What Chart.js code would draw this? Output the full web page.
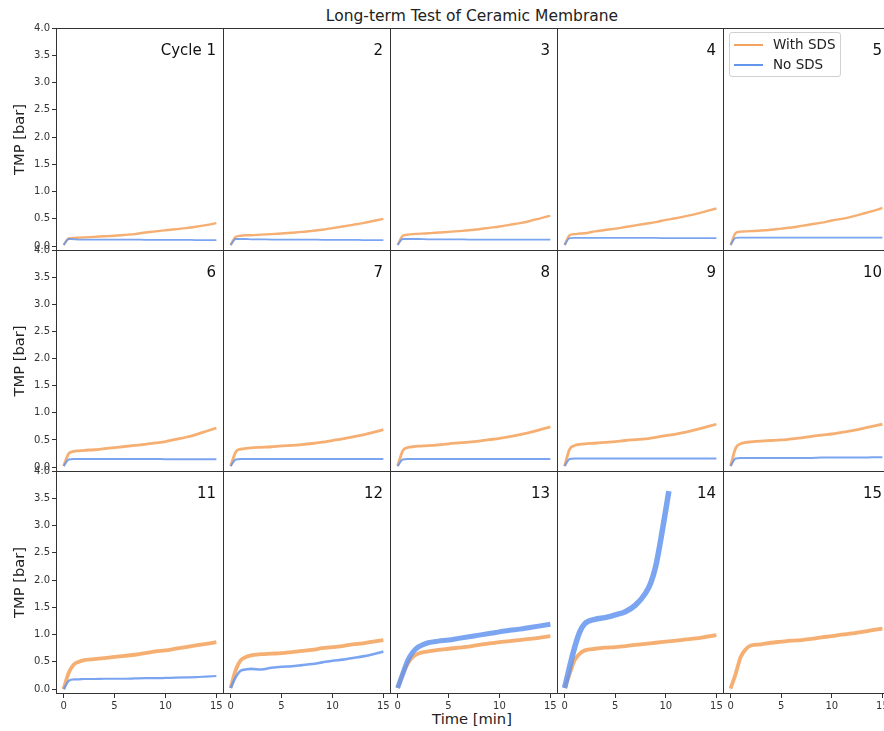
<!DOCTYPE html>
<html>
<head>
<meta charset="utf-8">
<script src="https://cdn.jsdelivr.net/npm/chart.js@4.4.1/dist/chart.umd.min.js"></script>
<style>
  html, body { margin: 0; padding: 0; overflow: hidden; background: #fff; }
  body { position: relative; width: 884px; height: 731px; font-family: "DejaVu Sans", sans-serif; color: #222; }
  canvas { position: absolute; }
  #title { position: absolute; left: 0; width: 944px; top: 7px; text-align: center; font-size: 15.5px; }
  #xtitle { position: absolute; left: 0; width: 944px; top: 710px; text-align: center; font-size: 14.7px; }
  #legend { position: absolute; left: 729px; top: 32px; width: 110px; height: 43px;
            border: 1px solid #d0d0d0; border-radius: 3px; background: rgba(255,255,255,0.85); z-index: 5; }
  #legend .row { position: absolute; left: 0; height: 20px; font-size: 13.5px; }
  #legend .swatch { position: absolute; left: 4px; width: 29px; height: 2px; top: 9px; }
  #legend .lbl { position: absolute; left: 43px; top: 1px; white-space: nowrap; }
</style>
</head>
<body>
<div id="title">Long-term Test of Ceramic Membrane</div>
<div id="xtitle">Time [min]</div>
<div id="legend">
  <div class="row" style="top:2px"><div class="swatch" style="background:#f4a460"></div><div class="lbl">With SDS</div></div>
  <div class="row" style="top:22px"><div class="swatch" style="background:#6495ed"></div><div class="lbl">No SDS</div></div>
</div>
<script>
// --- Data ---
const cycleLabels = ["Cycle 1", "2", "3", "4", "5", "6", "7", "8", "9", "10", "11", "12", "13", "14", "15"];
const seriesNames = ["With SDS", "No SDS"];
const xTicks = [0, 5, 10, 15];
const yTicks = [0, 0.5, 1, 1.5, 2, 2.5, 3, 3.5, 4];

// time [min]
const times = [0, 0.5, 1, 1.5, 2, 3, 4, 5, 6, 7, 8, 9, 10, 11, 12, 13, 14, 15];
// cycle 14 without SDS stops early
const timesNoSDS14 = [0, 0.5, 1, 1.5, 2, 3, 4, 5, 6, 7, 8, 8.5, 9, 9.5, 10, 10.3];

// TMP [bar] with SDS, one row per cycle
const withSDS = [
  [0.02, 0.14, 0.15, 0.155, 0.16, 0.17, 0.18, 0.19, 0.205, 0.22, 0.25, 0.27, 0.29, 0.31, 0.33, 0.355, 0.385, 0.42],
  [0.02, 0.17, 0.19, 0.20, 0.20, 0.21, 0.22, 0.23, 0.245, 0.26, 0.28, 0.30, 0.33, 0.36, 0.39, 0.42, 0.46, 0.50],
  [0.02, 0.19, 0.21, 0.22, 0.225, 0.235, 0.25, 0.26, 0.275, 0.29, 0.31, 0.335, 0.36, 0.39, 0.42, 0.46, 0.51, 0.56],
  [0.02, 0.20, 0.22, 0.23, 0.235, 0.27, 0.295, 0.32, 0.35, 0.38, 0.41, 0.44, 0.48, 0.51, 0.55, 0.59, 0.64, 0.69],
  [0.02, 0.24, 0.265, 0.27, 0.275, 0.285, 0.30, 0.32, 0.34, 0.37, 0.40, 0.43, 0.47, 0.50, 0.54, 0.59, 0.64, 0.70],
  [0.02, 0.25, 0.29, 0.30, 0.31, 0.32, 0.34, 0.36, 0.38, 0.40, 0.42, 0.445, 0.47, 0.51, 0.55, 0.60, 0.66, 0.72],
  [0.02, 0.28, 0.33, 0.345, 0.355, 0.365, 0.375, 0.39, 0.40, 0.415, 0.435, 0.46, 0.49, 0.52, 0.555, 0.595, 0.64, 0.69],
  [0.02, 0.30, 0.36, 0.375, 0.385, 0.395, 0.41, 0.43, 0.445, 0.46, 0.48, 0.505, 0.53, 0.56, 0.60, 0.64, 0.69, 0.74],
  [0.02, 0.33, 0.40, 0.42, 0.43, 0.44, 0.455, 0.47, 0.49, 0.505, 0.52, 0.55, 0.58, 0.61, 0.645, 0.69, 0.74, 0.79],
  [0.02, 0.35, 0.43, 0.455, 0.465, 0.48, 0.49, 0.50, 0.52, 0.54, 0.565, 0.59, 0.61, 0.64, 0.67, 0.71, 0.75, 0.79],
  [0.00, 0.30, 0.45, 0.50, 0.53, 0.55, 0.57, 0.59, 0.61, 0.63, 0.66, 0.69, 0.71, 0.74, 0.77, 0.80, 0.83, 0.86],
  [0.02, 0.35, 0.53, 0.59, 0.62, 0.64, 0.65, 0.66, 0.68, 0.70, 0.72, 0.75, 0.77, 0.79, 0.82, 0.84, 0.87, 0.90],
  [0.02, 0.28, 0.47, 0.59, 0.65, 0.69, 0.72, 0.74, 0.76, 0.78, 0.81, 0.84, 0.86, 0.88, 0.90, 0.92, 0.945, 0.97],
  [0.02, 0.28, 0.53, 0.65, 0.71, 0.74, 0.76, 0.77, 0.79, 0.81, 0.83, 0.85, 0.87, 0.89, 0.91, 0.93, 0.96, 0.99],
  [0.01, 0.28, 0.59, 0.73, 0.80, 0.82, 0.85, 0.87, 0.89, 0.90, 0.92, 0.95, 0.97, 1.00, 1.02, 1.05, 1.08, 1.11]
];

// TMP [bar] without SDS (cycle 15 has no run)
const noSDS = [
  [0.02, 0.13, 0.125, 0.12, 0.12, 0.12, 0.12, 0.12, 0.12, 0.12, 0.115, 0.115, 0.115, 0.115, 0.115, 0.11, 0.11, 0.11],
  [0.02, 0.13, 0.13, 0.13, 0.125, 0.125, 0.12, 0.12, 0.12, 0.12, 0.12, 0.115, 0.115, 0.115, 0.115, 0.11, 0.11, 0.11],
  [0.02, 0.13, 0.13, 0.13, 0.13, 0.125, 0.125, 0.125, 0.125, 0.12, 0.12, 0.12, 0.12, 0.12, 0.12, 0.12, 0.12, 0.12],
  [0.02, 0.145, 0.15, 0.15, 0.15, 0.15, 0.15, 0.15, 0.15, 0.15, 0.15, 0.15, 0.145, 0.145, 0.145, 0.145, 0.145, 0.145],
  [0.02, 0.15, 0.155, 0.155, 0.155, 0.155, 0.155, 0.155, 0.155, 0.155, 0.155, 0.155, 0.155, 0.155, 0.155, 0.155, 0.155, 0.155],
  [0.02, 0.14, 0.15, 0.15, 0.15, 0.15, 0.15, 0.15, 0.15, 0.15, 0.15, 0.15, 0.145, 0.145, 0.145, 0.145, 0.145, 0.145],
  [0.02, 0.14, 0.15, 0.15, 0.15, 0.15, 0.15, 0.15, 0.15, 0.15, 0.15, 0.15, 0.15, 0.15, 0.15, 0.15, 0.15, 0.15],
  [0.02, 0.14, 0.15, 0.15, 0.15, 0.15, 0.15, 0.15, 0.15, 0.15, 0.15, 0.15, 0.15, 0.15, 0.15, 0.15, 0.15, 0.15],
  [0.02, 0.15, 0.16, 0.16, 0.16, 0.16, 0.16, 0.16, 0.16, 0.16, 0.16, 0.16, 0.16, 0.16, 0.16, 0.16, 0.16, 0.16],
  [0.02, 0.16, 0.17, 0.17, 0.17, 0.17, 0.17, 0.17, 0.17, 0.17, 0.17, 0.175, 0.175, 0.175, 0.175, 0.175, 0.18, 0.18],
  [0.00, 0.15, 0.18, 0.18, 0.185, 0.185, 0.19, 0.19, 0.19, 0.195, 0.20, 0.20, 0.205, 0.21, 0.215, 0.22, 0.23, 0.24],
  [0.02, 0.22, 0.34, 0.36, 0.37, 0.36, 0.39, 0.41, 0.42, 0.44, 0.46, 0.49, 0.52, 0.54, 0.57, 0.60, 0.64, 0.69],
  [0.02, 0.28, 0.53, 0.68, 0.77, 0.85, 0.88, 0.90, 0.93, 0.96, 0.99, 1.02, 1.05, 1.08, 1.10, 1.13, 1.16, 1.19],
  [0.02, 0.41, 0.77, 1.05, 1.20, 1.28, 1.31, 1.36, 1.42, 1.54, 1.76, 1.94, 2.25, 2.74, 3.29, 3.63],
  []
];

// --- Layout / style ---
const ORANGE = "rgba(244,164,96,0.88)";
const BLUE = "rgba(100,149,237,0.85)";
const FONT = "'DejaVu Sans', sans-serif";
const colX = [56, 223, 390, 557, 723, 889];
const rowY = [28, 250, 471, 693];
const padL = 56, padB = 32, padT = 8;
const orangeWidth = [2.4, 2.8, 3.8];
const blueWidth = [1.8, 1.8, 1.8, 1.8, 1.8, 2, 2, 2, 2, 2, 2.2, 2.6, 5, 5.5, 2];

// frame + cycle label drawn on each panel
const framePlugin = {
  id: "frame",
  afterDraw(chart, args, opts) {
    const { ctx, chartArea: a } = chart;
    ctx.save();
    ctx.strokeStyle = "#333";
    ctx.lineWidth = 1;
    ctx.strokeRect(a.left + 0.5, a.top + 0.5, a.right - a.left - 1, a.bottom - a.top - 1);
    ctx.font = "15px " + FONT;
    ctx.fillStyle = "#111";
    ctx.textAlign = "right";
    ctx.textBaseline = "alphabetic";
    ctx.fillText(opts.text, a.right - 8, a.top + 27);
    ctx.restore();
  }
};

// fixed axis box, no extra room for overhanging end labels
function fixBox(s, show, size) {
  if (s.isHorizontal()) s.height = show ? size : 0;
  else s.width = show ? size : 0;
  s.paddingTop = 0; s.paddingBottom = 0;
  s.paddingLeft = 0; s.paddingRight = 0;
}

for (let i = 0; i < 15; i++) {
  const r = Math.floor(i / 5), c = i % 5;
  const isLeft = c === 0, isBottom = r === 2;
  const extraTop = isLeft ? padT : 0;  // room for the "4.0" label
  const left = colX[c] - (isLeft ? padL : 0);
  const top = rowY[r] - extraTop;
  const w = colX[c + 1] - colX[c] + 1 + (isLeft ? padL : 0);
  const h = rowY[r + 1] - rowY[r] + 1 + (isBottom ? padB : 0) + extraTop;

  const cv = document.createElement("canvas");
  cv.width = w; cv.height = h;
  cv.style.left = left + "px"; cv.style.top = top + "px";
  cv.style.width = w + "px"; cv.style.height = h + "px";
  document.body.appendChild(cv);

  const tBlue = i === 13 ? timesNoSDS14 : times;

  new Chart(cv, {
    type: "line",
    data: {
      datasets: [
        {
          label: seriesNames[1],
          data: noSDS[i].map((v, k) => ({ x: tBlue[k], y: v })),
          borderColor: BLUE,
          borderWidth: blueWidth[i],
          pointRadius: 0,
          cubicInterpolationMode: "monotone",
          fill: false,
          order: 0
        },
        {
          label: seriesNames[0],
          data: withSDS[i].map((v, k) => ({ x: times[k], y: v })),
          borderColor: ORANGE,
          borderWidth: orangeWidth[r],
          pointRadius: 0,
          cubicInterpolationMode: "monotone",
          fill: false,
          order: 1
        }
      ]
    },
    options: {
      responsive: false,
      maintainAspectRatio: false,
      devicePixelRatio: 1,
      animation: false,
      events: [],
      layout: { padding: { top: extraTop, left: 0, right: 0, bottom: 0 } },
      plugins: {
        legend: { display: false },
        tooltip: { enabled: false },
        frame: { text: cycleLabels[i] }
      },
      scales: {
        x: {
          type: "linear",
          min: -0.75,
          max: 15.75,
          display: isBottom,
          afterFit: s => fixBox(s, isBottom, padB),
          afterBuildTicks: s => { s.ticks = xTicks.map(v => ({ value: v })); },
          ticks: {
            callback: v => String(v),
            font: { family: FONT, size: 10 },
            color: "#333",
            padding: 2,
            maxRotation: 0,
            autoSkip: false
          },
          grid: { drawOnChartArea: false, drawTicks: true, tickLength: 4, color: "#333" },
          border: { display: false }
        },
        y: {
          type: "linear",
          min: -0.09,
          max: 4.0,
          display: isLeft,
          afterFit: s => fixBox(s, isLeft, padL),
          afterBuildTicks: s => { s.ticks = yTicks.map(v => ({ value: v })); },
          ticks: {
            callback: v => Number(v).toFixed(1),
            font: { family: FONT, size: 10 },
            color: "#333",
            padding: 2,
            autoSkip: false
          },
          grid: { drawOnChartArea: false, drawTicks: true, tickLength: 4, color: "#333" },
          border: { display: false },
          title: {
            display: true,
            text: "TMP [bar]",
            color: "#222",
            font: { family: FONT, size: 14.7 },
            padding: { top: 11, bottom: 0 }
          }
        }
      }
    },
    plugins: [framePlugin]
  });
}
</script>
</body>
</html>
